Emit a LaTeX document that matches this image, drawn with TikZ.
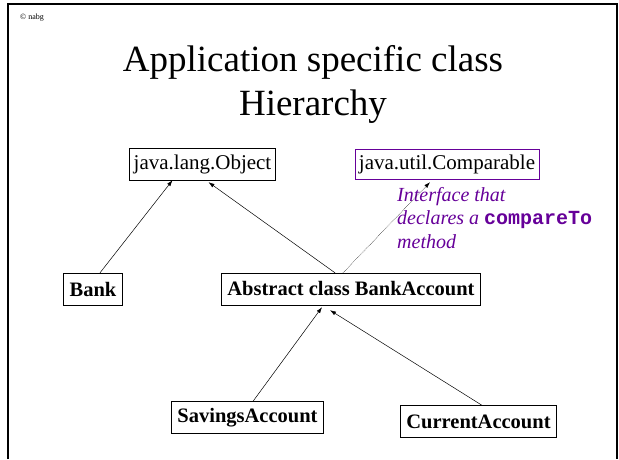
\documentclass[tikz,border=0pt]{standalone}
\usepackage{fontspec}
\setmainfont{Liberation Serif}
\setmonofont{Liberation Mono}
\usepackage{tikz}
\usetikzlibrary{arrows.meta,positioning,calc}
\definecolor{IfaceColor}{RGB}{102,0,153}

\tikzset{
  classbox/.style={draw, thin, inner xsep=4pt, minimum height=32pt, font=\fontsize{21}{24}\selectfont},
  boldbox/.style={classbox, inner xsep=6pt, font=\fontsize{20.5}{24}\selectfont\bfseries},
  inherit/.style={-{Latex[length=6pt,width=4pt]}, line width=0.5pt},
}

\begin{document}
\begin{tikzpicture}[x=1pt,y=-1pt]
        \useasboundingbox (0,0) rectangle (619,459);
        % slide frame
        \draw[line width=2.5pt] (8,459) -- (8,4) -- (617,4) -- (617,459);
        \node[anchor=base west, font=\fontsize{8}{9}\selectfont, inner sep=0] (copy) at (20,19) {© nabg};
        \node[align=center, font=\fontsize{37}{44}\selectfont] (title) at (313,84) {Application specific class\\Hierarchy};
        % classes
        \node[classbox] (obj) at (202.5,164) {java.lang.Object};
        \node[classbox, draw=IfaceColor, minimum height=30pt] (cmp) at (447,164) {java.util.Comparable};
        \node[boldbox] (bank) at (93,289) {Bank};
        \node[boldbox] (acct) at (351,289) {Abstract class BankAccount};
        \node[boldbox] (sav) at (247.5,417.5) {SavingsAccount};
        \node[boldbox] (cur) at (478.5,421.5) {CurrentAccount};
        \node[anchor=north west, align=left, text=IfaceColor, inner sep=0,
              font=\fontsize{20}{23.5}\selectfont\itshape] (note) at (397,187)
              {Interface that\\declares a {\fontsize{20}{23.5}\selectfont\upshape\ttfamily\bfseries compareTo}\\method};
        % inheritance
        \draw[inherit] ([xshift=7pt]bank.north) -- ([xshift=-30pt]obj.south);
        \draw[inherit] ([xshift=-16pt]acct.north) -- ([xshift=6pt,yshift=-2pt]obj.south);
        \draw[inherit, densely dotted] ([xshift=-8pt]acct.north) -- ([xshift=-17pt,yshift=-3pt]cmp.south);
        \draw[inherit] ([xshift=5.5pt]sav.north) -- ([xshift=-29pt,yshift=-2pt]acct.south);
        \draw[inherit] ([xshift=3.5pt]cur.north) -- ([xshift=-21pt,yshift=-5pt]acct.south);
      \end{tikzpicture}
\end{document}
